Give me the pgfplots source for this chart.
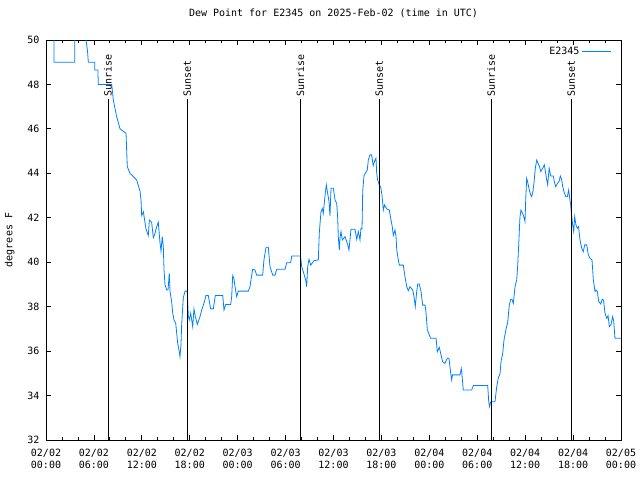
\documentclass[border=0pt]{standalone}
\usepackage{pgfplots}
\pgfplotsset{compat=1.18}
\usepackage{fontspec}
\setmainfont{DejaVu Sans Mono}
\definecolor{dp}{RGB}{0,128,255}
\newcommand{\gf}{\fontsize{10}{11.5}\selectfont}
\pgfplotstableread{
h v
0 51
1.0 51
1.0 49
3.6 49
3.6 51
4.9 51
4.9 50.3
5.2 49.5
5.3 49
6.1 49
6.1 48.65
6.5 48.65
6.55 48.0
8.23 48.0
8.43 47.3
8.85 46.55
9.27 46.0
10.02 45.8
10.18 44.3
10.52 44.0
11.36 43.7
11.77 43.2
11.9 42.8
11.98 42.1
12.19 42.27
12.52 41.5
12.81 41.2
12.94 41.9
13.23 41.8
13.44 41.1
13.65 41.3
13.86 41.6
14.06 41.8
14.27 40.9
14.40 40.5
14.56 41.15
14.69 40.7
14.78 39.65
14.90 38.98
15.11 38.75
15.28 38.75
15.44 39.5
15.53 38.7
15.74 38.2
15.87 37.7
16.03 37.4
16.24 37.26
16.49 36.35
16.69 35.97
16.78 35.75
16.90 36.28
16.99 37.2
17.19 38.4
17.41 38.7
17.69 38.7
17.72 38.4
17.82 37.6
17.94 37.4
18.12 37.7
18.37 37.1
18.53 37.9
18.70 37.55
18.95 37.2
19.28 37.55
19.50 37.85
19.78 38.15
20.03 38.5
20.32 38.5
20.62 37.9
20.95 37.9
21.20 38.5
22.13 38.5
22.29 37.85
22.50 38.1
23.13 38.1
23.25 38.45
23.38 39.4
23.54 39.25
23.67 38.9
23.88 38.45
24.08 38.7
25.33 38.7
25.54 38.9
25.63 39.12
25.88 39.68
26.17 39.65
26.38 39.42
27.13 39.42
27.30 40.13
27.55 40.67
27.84 40.67
28.05 39.8
28.39 39.42
28.68 39.42
28.89 39.68
29.93 39.68
30.14 39.98
30.64 39.98
30.77 40.28
31.87 40.28
32.02 39.8
32.22 39.57
32.52 39.2
32.64 38.9
32.77 39.8
32.93 40.13
33.15 39.87
33.56 40.07
34.10 40.1
34.22 41.3
34.43 42.27
34.60 42.42
34.72 42.2
34.97 43.1
35.10 43.48
35.27 43.1
35.44 42.73
35.56 42.08
35.69 43.33
35.98 43.33
36.19 42.8
36.40 42.65
36.53 41.98
36.60 41.15
36.73 40.55
36.81 41.08
36.94 41.38
37.10 41.0
37.44 41.15
37.73 40.85
37.94 40.55
38.19 41.48
38.69 41.48
38.91 41.03
39.11 41.38
39.32 41.0
39.44 41.53
39.57 41.5
39.66 43.2
39.82 43.9
40.07 44.05
40.23 44.15
40.36 44.6
40.57 44.83
40.78 44.83
40.91 44.5
40.98 44.35
41.19 44.6
41.32 44.68
41.41 44.0
41.53 43.7
41.73 43.48
41.91 43.38
42.07 43.03
42.24 42.35
42.39 42.58
42.66 42.4
42.99 42.35
43.16 41.98
43.36 41.6
43.49 41.2
43.70 41.45
43.83 41.15
43.92 40.55
44.12 40.1
44.24 39.87
44.74 39.87
44.95 39.35
45.17 38.9
45.37 38.72
45.58 38.9
45.92 38.75
46.08 38.45
46.24 38.0
46.42 38.68
46.55 39.02
46.74 39.02
46.96 38.68
47.17 38.07
47.46 38.07
47.58 37.77
47.75 36.95
47.92 36.8
48.17 36.58
48.84 36.58
49.00 35.97
49.25 36.17
49.42 35.9
49.67 35.52
49.96 35.45
50.25 35.68
50.46 35.68
50.68 35.0
50.80 34.7
50.90 34.93
51.84 34.93
52.00 35.22
52.09 34.93
52.25 34.25
53.30 34.25
53.51 34.45
55.31 34.45
55.44 33.72
55.54 33.5
55.69 33.72
56.22 33.72
56.44 34.4
56.64 34.8
56.85 34.97
56.97 35.52
57.19 35.9
57.35 36.5
57.60 36.98
57.81 37.28
58.01 38.07
58.19 38.33
58.35 38.33
58.52 38.15
58.73 38.9
58.94 39.2
59.07 39.87
59.23 41.08
59.35 42.05
59.48 42.35
59.77 42.12
59.98 41.83
60.07 42.8
60.19 43.78
60.32 43.6
60.52 43.25
60.69 43.03
60.82 42.95
60.98 43.2
61.10 43.55
61.27 44.23
61.45 44.6
61.61 44.45
61.80 44.3
61.95 44.08
62.20 44.23
62.40 44.38
62.57 44.0
62.70 43.7
62.82 43.48
63.00 44.23
63.20 43.88
63.53 43.88
63.65 43.63
63.82 43.4
64.05 43.55
64.24 43.63
64.40 43.88
64.58 43.7
64.70 43.4
64.86 43.18
65.08 42.95
65.28 42.95
65.45 43.25
65.61 42.8
65.70 42.58
65.83 42.05
65.95 41.68
66.08 41.38
66.20 42.05
66.36 41.68
66.53 41.53
66.68 41.6
66.87 41.0
67.08 40.63
67.28 40.48
67.46 40.78
67.71 40.78
67.91 40.33
68.12 40.18
68.37 40.1
68.54 39.2
68.75 38.68
68.87 38.75
69.04 38.68
69.21 38.23
69.46 38.12
69.66 38.33
69.81 38.3
70.00 37.7
70.21 37.48
70.38 37.6
70.54 37.1
70.75 37.2
70.96 37.55
71.09 37.33
71.25 36.58
72.0 36.58
}\dewdata
\begin{document}
\begin{tikzpicture}
\begin{axis}[
  scale only axis,
  width=575pt, height=400pt,
  xmin=0, xmax=72, ymin=32, ymax=50,
  axis line style={black, line width=0.8pt},
  xtick={0,6,...,72},
  xticklabels={{02/02\\00:00},{02/02\\06:00},{02/02\\12:00},{02/02\\18:00},{02/03\\00:00},{02/03\\06:00},{02/03\\12:00},{02/03\\18:00},{02/04\\00:00},{02/04\\06:00},{02/04\\12:00},{02/04\\18:00},{02/05\\00:00}},
  xticklabel style={align=center, font=\gf, yshift=-6pt},
  minor x tick num=2,
  ytick={32,34,...,50},
  yticklabel style={font=\gf, xshift=-3pt},
  /pgf/number format/assume math mode=true,
  tick align=inside,
  major tick length=5pt,
  minor tick length=3pt,
  tick style={black, line width=0.8pt},
  title={Dew Point for E2345 on 2025-Feb-02 (time in UTC)},
  title style={at={(axis description cs:0.5,1.0525)}, anchor=center, font=\gf},
  ylabel={degrees F},
  ylabel style={at={(axis description cs:-0.063,0.5)}, anchor=center, rotate=0, font=\gf},
  legend style={at={(rel axis cs:0.985,0.99)}, anchor=north east, draw=none, fill=none, font=\gf, inner sep=1pt},
  legend plot pos=right,
  legend image code/.code={\draw[#1] (0pt,0pt) -- (29pt,0pt);},
]
\addplot[dp, line width=0.8pt] table[x=h, y=v] {\dewdata};
\addlegendentry{E2345}
\addplot[black, line width=0.8pt, forget plot] coordinates {(7.76,32) (7.76,47.35)} node[pos=1, rotate=90, anchor=west, inner sep=1.5pt, font=\gf] {Sunrise};
\addplot[black, line width=0.8pt, forget plot] coordinates {(17.69,32) (17.69,47.35)} node[pos=1, rotate=90, anchor=west, inner sep=1.5pt, font=\gf] {Sunset};
\addplot[black, line width=0.8pt, forget plot] coordinates {(31.87,32) (31.87,47.35)} node[pos=1, rotate=90, anchor=west, inner sep=1.5pt, font=\gf] {Sunrise};
\addplot[black, line width=0.8pt, forget plot] coordinates {(41.73,32) (41.73,47.35)} node[pos=1, rotate=90, anchor=west, inner sep=1.5pt, font=\gf] {Sunset};
\addplot[black, line width=0.8pt, forget plot] coordinates {(55.73,32) (55.73,47.35)} node[pos=1, rotate=90, anchor=west, inner sep=1.5pt, font=\gf] {Sunrise};
\addplot[black, line width=0.8pt, forget plot] coordinates {(65.77,32) (65.77,47.35)} node[pos=1, rotate=90, anchor=west, inner sep=1.5pt, font=\gf] {Sunset};
\end{axis}
\pgfresetboundingbox
\useasboundingbox (current axis.south west) ++(-46pt,-40pt) rectangle ++(640pt,480pt);
\end{tikzpicture}
\end{document}
